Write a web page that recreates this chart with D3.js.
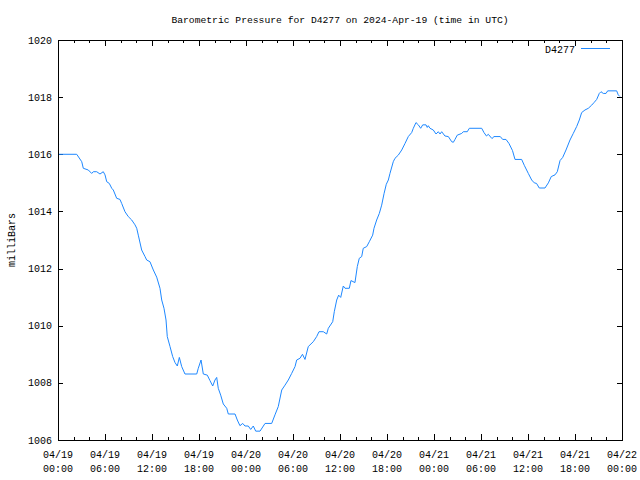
<!DOCTYPE html>
<html>
<head>
<meta charset="utf-8">
<script src="https://cdn.jsdelivr.net/npm/d3@7"></script>
<style>
  html, body { margin: 0; padding: 0; background: #fff; }
  text { font-family: "Liberation Mono", "DejaVu Sans Mono", monospace; fill: #000; }
</style>
</head>
<body>
<svg id="chart" width="640" height="480"></svg>
<script>
// ---- data ----
const titleText = "Barometric Pressure for D4277 on 2024-Apr-19 (time in UTC)";
const seriesName = "D4277";
const yLabel = "milliBars";
const startTime = "2024-04-19T00:00:00Z";
// hours since 04/19 00:00 UTC
const hours = [0, 2.39, 3.03, 3.23, 3.87, 4.30, 4.51, 4.94, 5.36, 5.78, 6.0, 6.22, 6.55, 6.86, 7.06, 7.49, 7.91, 8.13, 8.55, 8.97, 9.41, 9.83, 10.05, 10.25, 10.68, 11.11, 11.32, 11.74, 12.17, 12.6, 13.02, 13.24, 13.53, 13.79, 13.95, 14.3, 14.64, 14.94, 15.23, 15.49, 15.79, 16.21, 17.71, 17.91, 18.26, 18.55, 19.06, 19.4, 19.75, 20.04, 20.26, 20.46, 20.77, 21.1, 21.54, 21.74, 22.6, 22.89, 23.23, 23.58, 23.87, 24.29, 24.6, 24.93, 25.24, 25.79, 26.43, 27.28, 27.7, 28.12, 28.56, 28.98, 29.4, 29.83, 30.26, 30.47, 30.89, 31.21, 31.53, 31.95, 32.59, 33.02, 33.32, 33.87, 34.3, 34.51, 35.07, 35.27, 35.58, 35.83, 36.09, 36.42, 36.64, 37.19, 37.4, 37.91, 38.21, 38.46, 38.77, 38.97, 39.41, 39.74, 40.17, 40.34, 40.68, 41.02, 41.32, 41.62, 41.91, 42.17, 42.38, 42.8, 43.02, 43.44, 43.88, 44.3, 44.72, 45.15, 45.36, 45.7, 46.0, 46.3, 46.56, 46.98, 47.14, 47.27, 47.49, 47.91, 48.26, 48.55, 48.77, 48.98, 49.4, 49.83, 50.26, 50.47, 50.68, 50.97, 51.54, 51.74, 52.25, 52.51, 54.09, 54.38, 54.7, 54.93, 55.4, 55.66, 56.46, 56.77, 57.19, 57.57, 58.02, 58.34, 59.19, 59.55, 60.04, 60.47, 60.8, 61.09, 61.44, 62.17, 62.6, 62.97, 63.45, 63.74, 64.09, 64.43, 64.85, 65.36, 65.78, 66.21, 66.55, 66.85, 67.27, 67.7, 68.13, 68.46, 68.77, 69.1, 69.32, 69.61, 69.96, 70.17, 71.32, 71.52, 71.74];
const pressure = [1016.0, 1016.0, 1015.74, 1015.51, 1015.45, 1015.33, 1015.39, 1015.39, 1015.31, 1015.39, 1015.28, 1015.04, 1014.98, 1014.81, 1014.75, 1014.46, 1014.42, 1014.28, 1013.99, 1013.82, 1013.7, 1013.53, 1013.41, 1013.17, 1012.65, 1012.42, 1012.3, 1012.24, 1011.95, 1011.7, 1011.31, 1010.9, 1010.61, 1010.2, 1009.62, 1009.27, 1008.92, 1008.71, 1008.59, 1008.89, 1008.57, 1008.31, 1008.31, 1008.51, 1008.8, 1008.31, 1008.27, 1008.08, 1007.89, 1008.1, 1008.19, 1007.81, 1007.57, 1007.26, 1007.11, 1006.91, 1006.91, 1006.7, 1006.5, 1006.58, 1006.49, 1006.49, 1006.37, 1006.49, 1006.31, 1006.31, 1006.58, 1006.58, 1006.88, 1007.17, 1007.75, 1007.92, 1008.1, 1008.33, 1008.57, 1008.8, 1008.86, 1009.0, 1008.82, 1009.27, 1009.44, 1009.62, 1009.79, 1009.79, 1009.71, 1009.91, 1010.14, 1010.49, 1010.9, 1011.07, 1010.99, 1011.39, 1011.31, 1011.31, 1011.58, 1011.51, 1012.07, 1012.36, 1012.42, 1012.71, 1012.77, 1012.94, 1013.17, 1013.41, 1013.7, 1013.93, 1014.22, 1014.62, 1014.95, 1015.1, 1015.33, 1015.74, 1015.86, 1015.97, 1016.15, 1016.38, 1016.62, 1016.76, 1016.91, 1017.11, 1017.03, 1016.91, 1017.03, 1017.03, 1016.94, 1017.0, 1016.91, 1016.85, 1016.71, 1016.79, 1016.71, 1016.79, 1016.64, 1016.62, 1016.44, 1016.42, 1016.52, 1016.67, 1016.73, 1016.79, 1016.79, 1016.91, 1016.91, 1016.76, 1016.64, 1016.7, 1016.55, 1016.62, 1016.62, 1016.52, 1016.52, 1016.38, 1016.13, 1015.82, 1015.82, 1015.6, 1015.33, 1015.1, 1015.0, 1014.98, 1014.82, 1014.82, 1015.0, 1015.22, 1015.28, 1015.39, 1015.78, 1015.89, 1016.15, 1016.5, 1016.73, 1016.97, 1017.2, 1017.46, 1017.55, 1017.61, 1017.72, 1017.82, 1017.92, 1018.13, 1018.19, 1018.13, 1018.13, 1018.22, 1018.22, 1018.08, 1018.02];
const yTicks = [1006, 1008, 1010, 1012, 1014, 1016, 1018, 1020];
const xTickHours = [0, 6, 12, 18, 24, 30, 36, 42, 48, 54, 60, 66, 72];
const xTickDates = ["04/19", "04/19", "04/19", "04/19", "04/20", "04/20", "04/20", "04/20", "04/21", "04/21", "04/21", "04/21", "04/22"];
const xTickTimes = ["00:00", "06:00", "12:00", "18:00", "00:00", "06:00", "12:00", "18:00", "00:00", "06:00", "12:00", "18:00", "00:00"];
const xMinorHours = d3.range(0, 73, 2);

// ---- layout ----
const svg = d3.select("#chart");
const pLeft = 58, pRight = 622, pTop = 40, pBottom = 440;
const lineColor = "#1e88ff";
const t0 = new Date(startTime).getTime();
const toDate = h => new Date(t0 + h * 3600000);

const x = d3.scaleUtc().domain([toDate(0), toDate(72)]).range([pLeft, pRight]);
const y = d3.scaleLinear().domain([1006, 1020]).range([pBottom, pTop]);

const data = hours.map((h, i) => ({ t: toDate(h), v: pressure[i] }));

// title
svg.append("text").attr("x", 340).attr("y", 23).attr("text-anchor", "middle")
  .style("font-size", "9.7px").text(titleText);

// y label
svg.append("text").attr("transform", "translate(15,240) rotate(-90)")
  .attr("text-anchor", "middle").style("font-size", "10px").text(yLabel);

// axes (ticks inward, mirrored)
function styleAxis(g) {
  g.selectAll("path").remove();
  g.selectAll("line").attr("stroke", "#000").attr("shape-rendering", "crispEdges");
  g.selectAll("text").remove();
}
svg.append("g").attr("transform", `translate(0,${pBottom})`)
  .call(d3.axisBottom(x).tickValues(xMinorHours.map(toDate)).tickSize(-3)).call(styleAxis);
svg.append("g").attr("transform", `translate(0,${pTop})`)
  .call(d3.axisTop(x).tickValues(xMinorHours.map(toDate)).tickSize(-3)).call(styleAxis);
svg.append("g").attr("transform", `translate(0,${pBottom})`)
  .call(d3.axisBottom(x).tickValues(xTickHours.map(toDate)).tickSize(-6)).call(styleAxis);
svg.append("g").attr("transform", `translate(0,${pTop})`)
  .call(d3.axisTop(x).tickValues(xTickHours.map(toDate)).tickSize(-6)).call(styleAxis);
svg.append("g").attr("transform", `translate(${pLeft},0)`)
  .call(d3.axisLeft(y).tickValues(yTicks).tickSize(-5)).call(styleAxis);
svg.append("g").attr("transform", `translate(${pRight},0)`)
  .call(d3.axisRight(y).tickValues(yTicks).tickSize(-5)).call(styleAxis);

// tick labels
svg.append("g").selectAll("text").data(yTicks).join("text")
  .attr("x", 52).attr("y", d => y(d) + 3.5).attr("text-anchor", "end")
  .style("font-size", "10px").text(d => d);
const xl = svg.append("g").selectAll("g").data(xTickHours).join("g")
  .attr("transform", d => `translate(${x(toDate(d))},0)`);
xl.append("text").attr("y", 458).attr("text-anchor", "middle").style("font-size", "10px")
  .text((d, i) => xTickDates[i]);
xl.append("text").attr("y", 472).attr("text-anchor", "middle").style("font-size", "10px")
  .text((d, i) => xTickTimes[i]);

// series line
svg.append("path").datum(data)
  .attr("fill", "none").attr("stroke", lineColor).attr("stroke-width", 1)
  .attr("d", d3.line().x(d => x(d.t)).y(d => y(d.v)));

// frame
svg.append("rect").attr("x", pLeft).attr("y", pTop).attr("width", pRight - pLeft).attr("height", pBottom - pTop)
  .attr("fill", "none").attr("stroke", "#000").attr("shape-rendering", "crispEdges");

// legend
svg.append("text").attr("x", 575).attr("y", 53).attr("text-anchor", "end")
  .style("font-size", "10px").text(seriesName);
svg.append("line").attr("x1", 581).attr("x2", 610).attr("y1", 48.5).attr("y2", 48.5)
  .attr("stroke", lineColor).attr("stroke-width", 1);
</script>
</body>
</html>
